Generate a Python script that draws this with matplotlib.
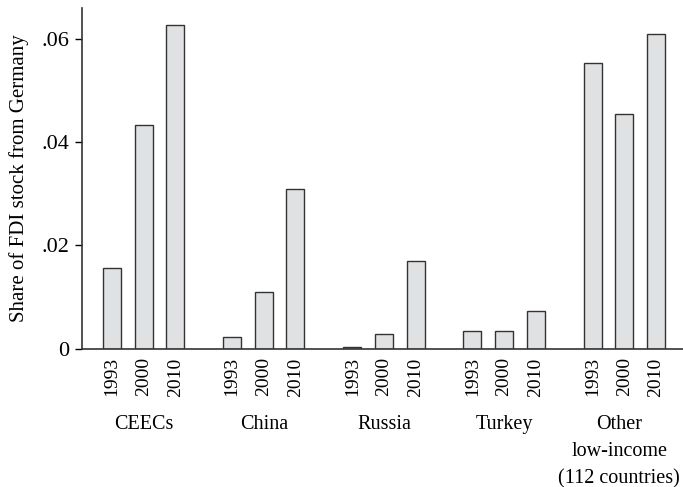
import numpy as np
import matplotlib
matplotlib.use("Agg")
import matplotlib.pyplot as plt
import matplotlib.transforms as mtransforms

plt.rcParams["font.family"] = "serif"
plt.rcParams["font.serif"] = ["Liberation Serif", "DejaVu Serif"]

# ---- Data -------------------------------------------------------------------
groups = ["CEECs", "China", "Russia", "Turkey", "Other\nlow-income\n(112 countries)"]
years = ["1993", "2000", "2010"]
share_1993 = [0.0157, 0.0023, 0.0004, 0.0034, 0.0553]
share_2000 = [0.0432, 0.0110, 0.0028, 0.0034, 0.0455]
share_2010 = [0.0626, 0.0309, 0.0171, 0.0073, 0.0609]
yticks = [0, 0.02, 0.04, 0.06]
yticklabels = ["0", ".02", ".04", ".06"]

GROUP_STEP = 3.8
BAR_W = 0.57

fig = plt.figure(figsize=(6.83, 4.87), dpi=100)
ax = fig.add_axes([0.12, 0.2834, 0.88, 0.7002])

series = [share_1993, share_2000, share_2010]
positions, labels = [], []
for g in range(len(groups)):
    for i, vals in enumerate(series):
        x = g * GROUP_STEP + i
        ax.bar(x, vals[g], width=BAR_W, color="#e0e1e3",
               edgecolor="#333333", linewidth=1.0, zorder=2)
        positions.append(x)
        labels.append(years[i])

ax.set_xticks(positions)
ax.set_xticklabels(labels, rotation=90, fontsize=14)
ax.tick_params(axis="x", length=0, pad=6)

ax.set_yticks(yticks)
ax.set_yticklabels(yticklabels, fontsize=16)
ax.tick_params(axis="y", length=5, width=1.0, direction="out", pad=4)

ax.set_xlim(-0.95, (len(groups) - 1) * GROUP_STEP + 2 + 0.86)
ax.set_ylim(0, 0.0659)

for s in ["top", "right"]:
    ax.spines[s].set_visible(False)
for s in ["left", "bottom"]:
    ax.spines[s].set_color("#333333")
    ax.spines[s].set_linewidth(1.2)

ax.set_ylabel("Share of FDI stock from Germany", fontsize=15, labelpad=9)

trans = mtransforms.blended_transform_factory(ax.transData, ax.transAxes)
for g, name in enumerate(groups):
    t = trans
    if g == len(groups) - 1:
        # last label sits a bit left so it fits inside the figure
        t = mtransforms.offset_copy(trans, fig=fig, x=-5, units="dots")
    ax.text(g * GROUP_STEP + 1, -0.195, name, transform=t,
            ha="center", va="top", fontsize=14.5, linespacing=1.55)

fig.savefig("out.png", dpi=100)
